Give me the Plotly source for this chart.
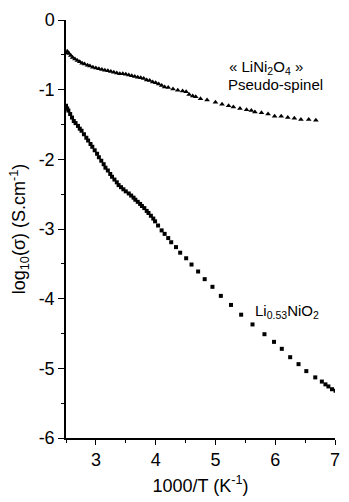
import plotly.graph_objects as go

# Li0.53NiO2 (squares)
li_x = [2.50, 2.52, 2.54, 2.57, 2.60, 2.63, 2.66, 2.70, 2.73, 2.76, 2.80, 2.84, 2.87, 2.91, 2.94,
        2.98, 3.02, 3.05, 3.09, 3.13, 3.16, 3.20, 3.24, 3.27, 3.31, 3.35, 3.38, 3.42, 3.46, 3.50,
        3.55, 3.59, 3.63, 3.66, 3.70, 3.74, 3.77, 3.81, 3.85, 3.88, 3.92, 3.96, 3.99,
        4.04, 4.10, 4.15, 4.21, 4.26, 4.34, 4.41, 4.51, 4.60, 4.71, 4.82, 4.95, 5.09, 5.26,
        5.43, 5.62, 5.82, 5.98, 6.11, 6.25, 6.39, 6.52, 6.67, 6.78, 6.84, 6.89, 6.95, 7.01]
li_y = [-1.23, -1.27, -1.30, -1.35, -1.40, -1.45, -1.48, -1.52, -1.56, -1.59, -1.64, -1.69, -1.73, -1.78, -1.82,
        -1.87, -1.92, -1.97, -2.02, -2.07, -2.12, -2.16, -2.21, -2.25, -2.29, -2.33, -2.37, -2.40, -2.43, -2.46,
        -2.49, -2.52, -2.55, -2.58, -2.61, -2.64, -2.67, -2.70, -2.74, -2.77, -2.81, -2.85, -2.89,
        -2.95, -3.02, -3.07, -3.13, -3.19, -3.26, -3.34, -3.42, -3.51, -3.61, -3.72, -3.83, -3.96, -4.09,
        -4.23, -4.37, -4.51, -4.62, -4.72, -4.84, -4.94, -5.04, -5.13, -5.19, -5.23, -5.26, -5.30, -5.32]

# "LiNi2O4" pseudo-spinel (triangles)
sp_x = [2.50, 2.52, 2.55, 2.58, 2.61, 2.65, 2.69, 2.73, 2.77, 2.81, 2.86, 2.90, 2.95, 3.00, 3.05,
        3.10, 3.15, 3.20, 3.25, 3.30, 3.35, 3.40, 3.45, 3.50, 3.55, 3.60, 3.65, 3.70, 3.75, 3.80,
        3.85, 3.90, 3.95, 4.00, 4.05, 4.10, 4.15, 4.21, 4.29, 4.37, 4.45, 4.51, 4.56, 4.62, 4.67,
        4.75, 4.86, 5.00, 5.11, 5.22, 5.30, 5.41, 5.52, 5.60, 5.66, 5.77, 5.88, 5.99, 6.10, 6.21,
        6.32, 6.43, 6.56, 6.68]
sp_y = [-0.47, -0.45, -0.48, -0.51, -0.54, -0.56, -0.58, -0.60, -0.62, -0.63, -0.65, -0.66, -0.68, -0.69, -0.70,
        -0.71, -0.72, -0.73, -0.74, -0.75, -0.76, -0.77, -0.77, -0.78, -0.79, -0.80, -0.81, -0.82, -0.83, -0.84,
        -0.86, -0.87, -0.89, -0.90, -0.92, -0.94, -0.96, -0.97, -0.99, -1.01, -1.02, -1.03, -1.07, -1.09, -1.10,
        -1.13, -1.15, -1.18, -1.21, -1.23, -1.25, -1.27, -1.29, -1.30, -1.32, -1.33, -1.35, -1.38, -1.38, -1.40,
        -1.41, -1.43, -1.43, -1.44]

x_ticks = [3, 4, 5, 6, 7]
x_labels = ["3", "4", "5", "6", "7"]
y_ticks = [0, -1, -2, -3, -4, -5, -6]
y_labels = ["0", "-1", "-2", "-3", "-4", "-5", "-6"]

FONT = "Arial, Liberation Sans, Helvetica, sans-serif"

fig = go.Figure()
fig.add_trace(go.Scatter(x=sp_x, y=sp_y, mode="markers",
                         marker=dict(symbol="triangle-up", size=5, color="black", line=dict(width=0)),
                         showlegend=False))
fig.add_trace(go.Scatter(x=li_x, y=li_y, mode="markers",
                         marker=dict(symbol="square", size=4, color="black", line=dict(width=0)),
                         showlegend=False))

fig.add_annotation(x=5.19, y=-0.68, xref="x", yref="y", xanchor="left", yanchor="middle",
                   text="« LiNi<sub>2</sub>O<sub>4</sub> »", showarrow=False,
                   font=dict(family=FONT, size=15, color="black"))
fig.add_annotation(x=5.18, y=-0.93, xref="x", yref="y", xanchor="left", yanchor="middle",
                   text="Pseudo-spinel", showarrow=False,
                   font=dict(family=FONT, size=15, color="black"))
fig.add_annotation(x=5.63, y=-4.18, xref="x", yref="y", xanchor="left", yanchor="middle",
                   text="Li<sub>0.53</sub>NiO<sub>2</sub>", showarrow=False,
                   font=dict(family=FONT, size=15, color="black"))

fig.update_layout(
    width=349, height=502,
    margin=dict(l=66, r=9, t=20, b=60),
    paper_bgcolor="white", plot_bgcolor="white",
    font=dict(family=FONT, size=18, color="black"),
    xaxis=dict(range=[2.5, 7], tickvals=x_ticks, ticktext=x_labels, ticks="outside", ticklen=5, tickwidth=1,
               tickcolor="black", showline=True, linecolor="black", linewidth=1.5,
               showgrid=False, zeroline=False, mirror=False,
               minor=dict(dtick=0.5, tick0=2.5, ticks="outside", ticklen=3, tickcolor="black", showgrid=False),
               title=dict(text="1000/T (K<sup>-1</sup>)", standoff=10, font=dict(size=18)),
               tickfont=dict(size=18)),
    yaxis=dict(range=[-6, 0], tickvals=y_ticks, ticktext=y_labels, ticks="outside", ticklen=6, tickwidth=1,
               tickcolor="black", showline=True, linecolor="black", linewidth=1.5,
               showgrid=False, zeroline=False, mirror=False,
               minor=dict(dtick=0.5, tick0=0, ticks="outside", ticklen=3, tickcolor="black", showgrid=False),
               title=dict(text="log<sub>10</sub>(σ) (S.cm<sup>-1</sup>)", standoff=8, font=dict(size=18)),
               tickfont=dict(size=18)),
)

fig.write_html("out.html")
